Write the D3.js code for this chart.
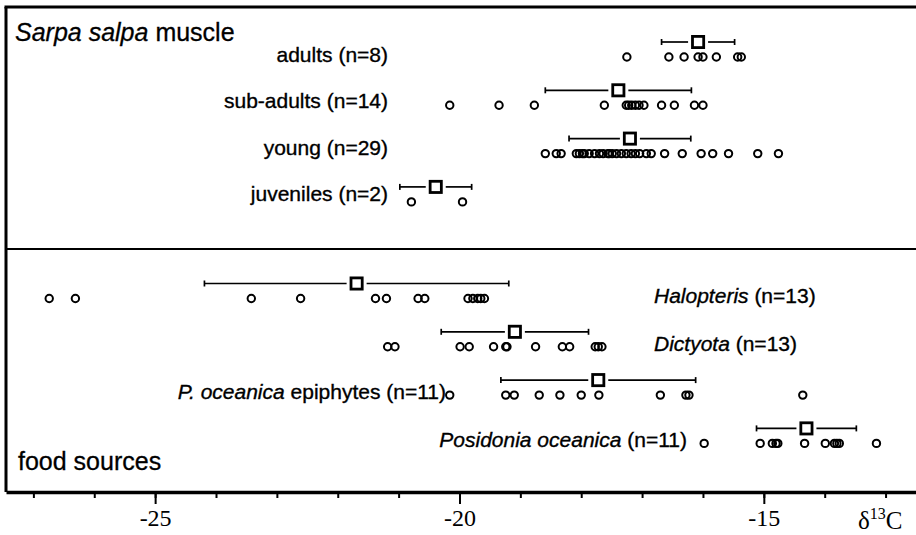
<!DOCTYPE html>
<html lang="en">
<head>
    <meta charset="UTF-8">
    <title>Sarpa salpa d13C</title>
    <script src="https://d3js.org/d3.v7.min.js"></script>
    <style>
        body{
            margin: 0;
            background-color: #fff;
        }
        .lbl{
            font-family: "Liberation Sans", Arial, sans-serif;
            font-size: 21px;
            fill: #000;
            stroke: #000;
            stroke-width: 0.35px;
        }
        .ttl{
            font-family: "Liberation Sans", Arial, sans-serif;
            font-size: 25px;
            fill: #000;
            stroke: #000;
            stroke-width: 0.3px;
        }
    </style>
</head>
<body>
<script>
    // Sarpa salpa muscle groups
    const muscleLabels = ["adults (n=8)", "sub-adults (n=14)", "young (n=29)", "juveniles (n=2)"];
    const muscleMeans = [-16.08, -17.39, -17.20, -20.39];
    const muscleSD = [0.60, 1.20, 1.00, 0.59];
    const adults = [-17.25, -16.56, -16.31, -16.08, -16.0, -15.78, -15.43, -15.37];
    const subAdults = [-20.16, -19.35, -18.77, -17.62, -17.26, -17.22, -17.17, -17.11, -17.05, -16.97, -16.68, -16.47, -16.14, -16.0];
    const young = [-18.59, -18.41, -18.33, -18.08, -18.03, -17.98, -17.95, -17.87, -17.78, -17.70,
        -17.64, -17.56, -17.54, -17.49, -17.42, -17.34, -17.26, -17.18, -17.11, -17.04,
        -16.93, -16.85, -16.63, -16.34, -16.03, -15.84, -15.58, -15.10, -14.76];
    const juveniles = [-20.79, -19.95];
    const muscleValues = [adults, subAdults, young, juveniles];

    // food sources
    const foodNames = ["Halopteris", "Dictyota", "P. oceanica", "Posidonia oceanica"];
    const foodSuffix = [" (n=13)", " (n=13)", " epiphytes (n=11)", " (n=11)"];
    const foodMeans = [-21.69, -19.09, -17.72, -14.30];
    const foodSD = [2.50, 1.21, 1.60, 0.82];
    const halopteris = [-26.74, -26.31, -23.42, -22.61, -21.38, -21.20, -20.68, -20.57, -19.86, -19.78, -19.70, -19.65, -19.59];
    const dictyota = [-21.18, -21.06, -19.99, -19.84, -19.44, -19.24, -19.22, -18.75, -18.31, -18.19, -17.77, -17.72, -17.66];
    const epiphytes = [-20.16, -19.24, -19.10, -18.69, -18.35, -18.0, -17.71, -16.70, -16.28, -16.23, -14.36];
    const posidonia = [-15.98, -15.06, -14.86, -14.80, -14.77, -14.33, -13.99, -13.84, -13.80, -13.76, -13.15];
    const foodValues = [halopteris, dictyota, epiphytes, posidonia];

    const minorTicks = d3.range(-27, -12, 1);
    const majorTicks = [-25, -20, -15];

    const width = 916;
    const height = 535;
    const frameLeft = 6, frameTop = 7, frameMid = 249, axisY = 492;

    const svg = d3.select("body")
        .append("svg")
        .attr("width", width)
        .attr("height", height);

    const x = d3.scaleLinear()
        .domain([-27.45, -12.5])
        .range([frameLeft, width]);

    // rows 0-3 muscle, 5-8 food
    const rowY = d3.scaleLinear().domain([0, 8]).range([57, 443.4]);
    const muscleLabelY = d3.scaleLinear().domain([0, 3]).range([62, 201]);

    // frame
    svg.append("line").attr("x1", frameLeft - 1.5).attr("x2", width).attr("y1", frameTop).attr("y2", frameTop)
        .attr("stroke", "#000").attr("stroke-width", 3);
    svg.append("line").attr("x1", frameLeft).attr("x2", frameLeft).attr("y1", frameTop).attr("y2", axisY)
        .attr("stroke", "#000").attr("stroke-width", 3);
    svg.append("line").attr("x1", frameLeft).attr("x2", width).attr("y1", frameMid).attr("y2", frameMid)
        .attr("stroke", "#000").attr("stroke-width", 2);

    // axis: minor ticks then major ticks with labels
    const minorAxis = svg.append("g")
        .attr("transform", `translate(0,${axisY})`)
        .call(d3.axisBottom(x).tickValues(minorTicks).tickSize(6).tickSizeOuter(0).tickFormat(""));
    minorAxis.select(".domain").attr("stroke-width", 3.5);
    minorAxis.selectAll(".tick line").attr("stroke-width", 2);

    const majorAxis = svg.append("g")
        .attr("transform", `translate(0,${axisY})`)
        .call(d3.axisBottom(x).tickValues(majorTicks).tickSize(12).tickSizeOuter(0).tickPadding(5).tickFormat(d3.format("d")));
    majorAxis.select(".domain").remove();
    majorAxis.selectAll(".tick line").attr("stroke-width", 2);
    majorAxis.selectAll(".tick text")
        .style("font-family", "'Liberation Serif', 'Times New Roman', serif")
        .style("font-size", "24px")
        .attr("fill", "#000")
        .text(d => "-" + Math.abs(d));

    // axis title
    const axTitle = svg.append("text")
        .attr("x", 858)
        .attr("y", 529)
        .style("font-family", "'Liberation Serif', 'Times New Roman', serif")
        .style("font-size", "25px");
    axTitle.append("tspan").text("δ");
    axTitle.append("tspan").attr("dy", -10).style("font-size", "16px").text("13");
    axTitle.append("tspan").attr("dy", 10).text("C");

    // panel titles
    const t1 = svg.append("text").attr("class", "ttl").attr("x", 15).attr("y", 41);
    t1.append("tspan").style("font-style", "italic").text("Sarpa salpa");
    t1.append("tspan").text(" muscle");
    svg.append("text").attr("class", "ttl").attr("x", 18).attr("y", 470).text("food sources");

    // draw one row: error bar, mean square, individual circles
    function drawRow(values, mean, sd, cy) {
        const g = svg.append("g");
        const sy = cy - 15;
        const half = 7, gap = 3;
        const x0 = x(mean - sd), x1 = x(mean + sd), xm = x(mean);
        g.append("line").attr("x1", x0).attr("x2", xm - half - gap).attr("y1", sy).attr("y2", sy)
            .attr("stroke", "#000").attr("stroke-width", 1.7);
        g.append("line").attr("x1", xm + half + gap).attr("x2", x1).attr("y1", sy).attr("y2", sy)
            .attr("stroke", "#000").attr("stroke-width", 1.7);
        g.selectAll(".cap")
            .data([x0, x1])
            .enter().append("line")
            .attr("x1", d => d).attr("x2", d => d)
            .attr("y1", sy - 3).attr("y2", sy + 3)
            .attr("stroke", "#000").attr("stroke-width", 1.7);
        g.append("rect")
            .attr("x", xm - half + 1.4).attr("y", sy - half + 1.4)
            .attr("width", 2 * half - 2.8).attr("height", 2 * half - 2.8)
            .attr("fill", "#fff").attr("stroke", "#000").attr("stroke-width", 2.8);
        g.selectAll("circle")
            .data(values)
            .enter().append("circle")
            .attr("cx", d => x(d))
            .attr("cy", cy)
            .attr("r", 3.7)
            .attr("fill", "none")
            .attr("stroke", "#000")
            .attr("stroke-width", 2);
    }

    muscleValues.forEach((vals, i) => {
        drawRow(vals, muscleMeans[i], muscleSD[i], rowY(i));
        svg.append("text")
            .attr("class", "lbl")
            .attr("x", 388)
            .attr("y", muscleLabelY(i))
            .attr("text-anchor", "end")
            .text(muscleLabels[i]);
    });

    // food label placement
    const foodLabelX = [654, 654, 446, 687];
    const foodAnchor = ["start", "start", "end", "end"];
    foodValues.forEach((vals, i) => {
        const cy = rowY(i + 5);
        drawRow(vals, foodMeans[i], foodSD[i], cy);
        const t = svg.append("text")
            .attr("class", "lbl")
            .attr("x", foodLabelX[i])
            .attr("y", cy + 4)
            .attr("text-anchor", foodAnchor[i]);
        t.append("tspan").style("font-style", "italic").text(foodNames[i]);
        t.append("tspan").text(foodSuffix[i]);
    });
</script>
</body>
</html>
